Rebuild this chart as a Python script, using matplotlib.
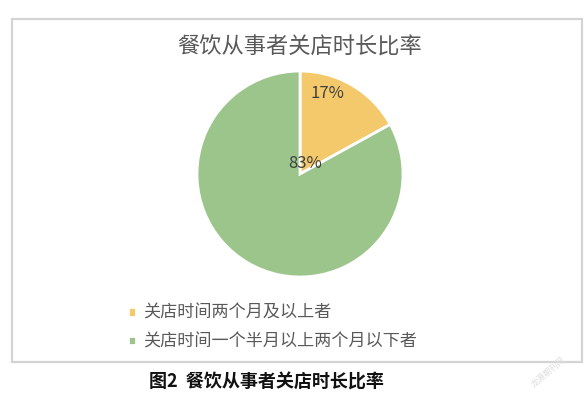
import matplotlib
matplotlib.use("Agg")
import matplotlib.pyplot as plt
from matplotlib.patches import Rectangle

plt.rcParams['font.family'] = ['Noto Sans CJK SC', 'DejaVu Sans']

# data
title = "餐饮从事者关店时长比率"
caption = "图2  餐饮从事者关店时长比率"
labels = ["关店时间两个月及以上者", "关店时间一个半月以上两个月以下者"]
shares = [17, 83]
colors = ["#F4C96C", "#9CC58C"]

W, H = 585, 400
fig = plt.figure(figsize=(W / 100, H / 100), dpi=100)

# chart frame
fig.patches.append(Rectangle((12 / W, 1 - 362 / H), 570 / W, 343 / H,
                             transform=fig.transFigure, fill=False,
                             edgecolor="#d4d4d4", linewidth=1.6))

# pie axes: centre (300,174) px, radius 103 px
r = 103
ax = fig.add_axes([(300 - r) / W, 1 - (174 + r) / H, 2 * r / W, 2 * r / H])
wedges, _, autotexts = ax.pie(shares, colors=colors, startangle=90, counterclock=False,
                              autopct="%d%%", radius=1,
                              wedgeprops=dict(edgecolor="white", linewidth=2),
                              textprops=dict(color="#404040", fontsize=12))
ax.set_xlim(-1, 1)
ax.set_ylim(-1, 1)
ax.set_aspect("equal")
ax.axis("off")

# label positions as Excel placed them
autotexts[0].set_position((0.27, 0.78))
autotexts[1].set_position((0.05, 0.10))

fig.text(300 / W, 1 - 47 / H, title, ha="center", va="center",
         fontsize=16, color="#595959")

fig.legend(wedges, labels, loc="upper left", bbox_to_anchor=(128 / W, 1 - 304 / H),
           frameon=False, fontsize=12.3, labelcolor="#595959",
           handlelength=0.45, handleheight=0.45, handletextpad=0.45,
           labelspacing=0.6, borderpad=0, borderaxespad=0)

fig.text(266 / W, 1 - 382 / H, caption, ha="center", va="center",
         fontsize=13, fontweight="bold", color="#111111")

# faint watermark
fig.text(548 / W, 1 - 372 / H, "龙源期刊网", ha="center", va="center",
         fontsize=6, color="#dddddd", rotation=40)

fig.savefig("out.png", dpi=100, facecolor="white")
